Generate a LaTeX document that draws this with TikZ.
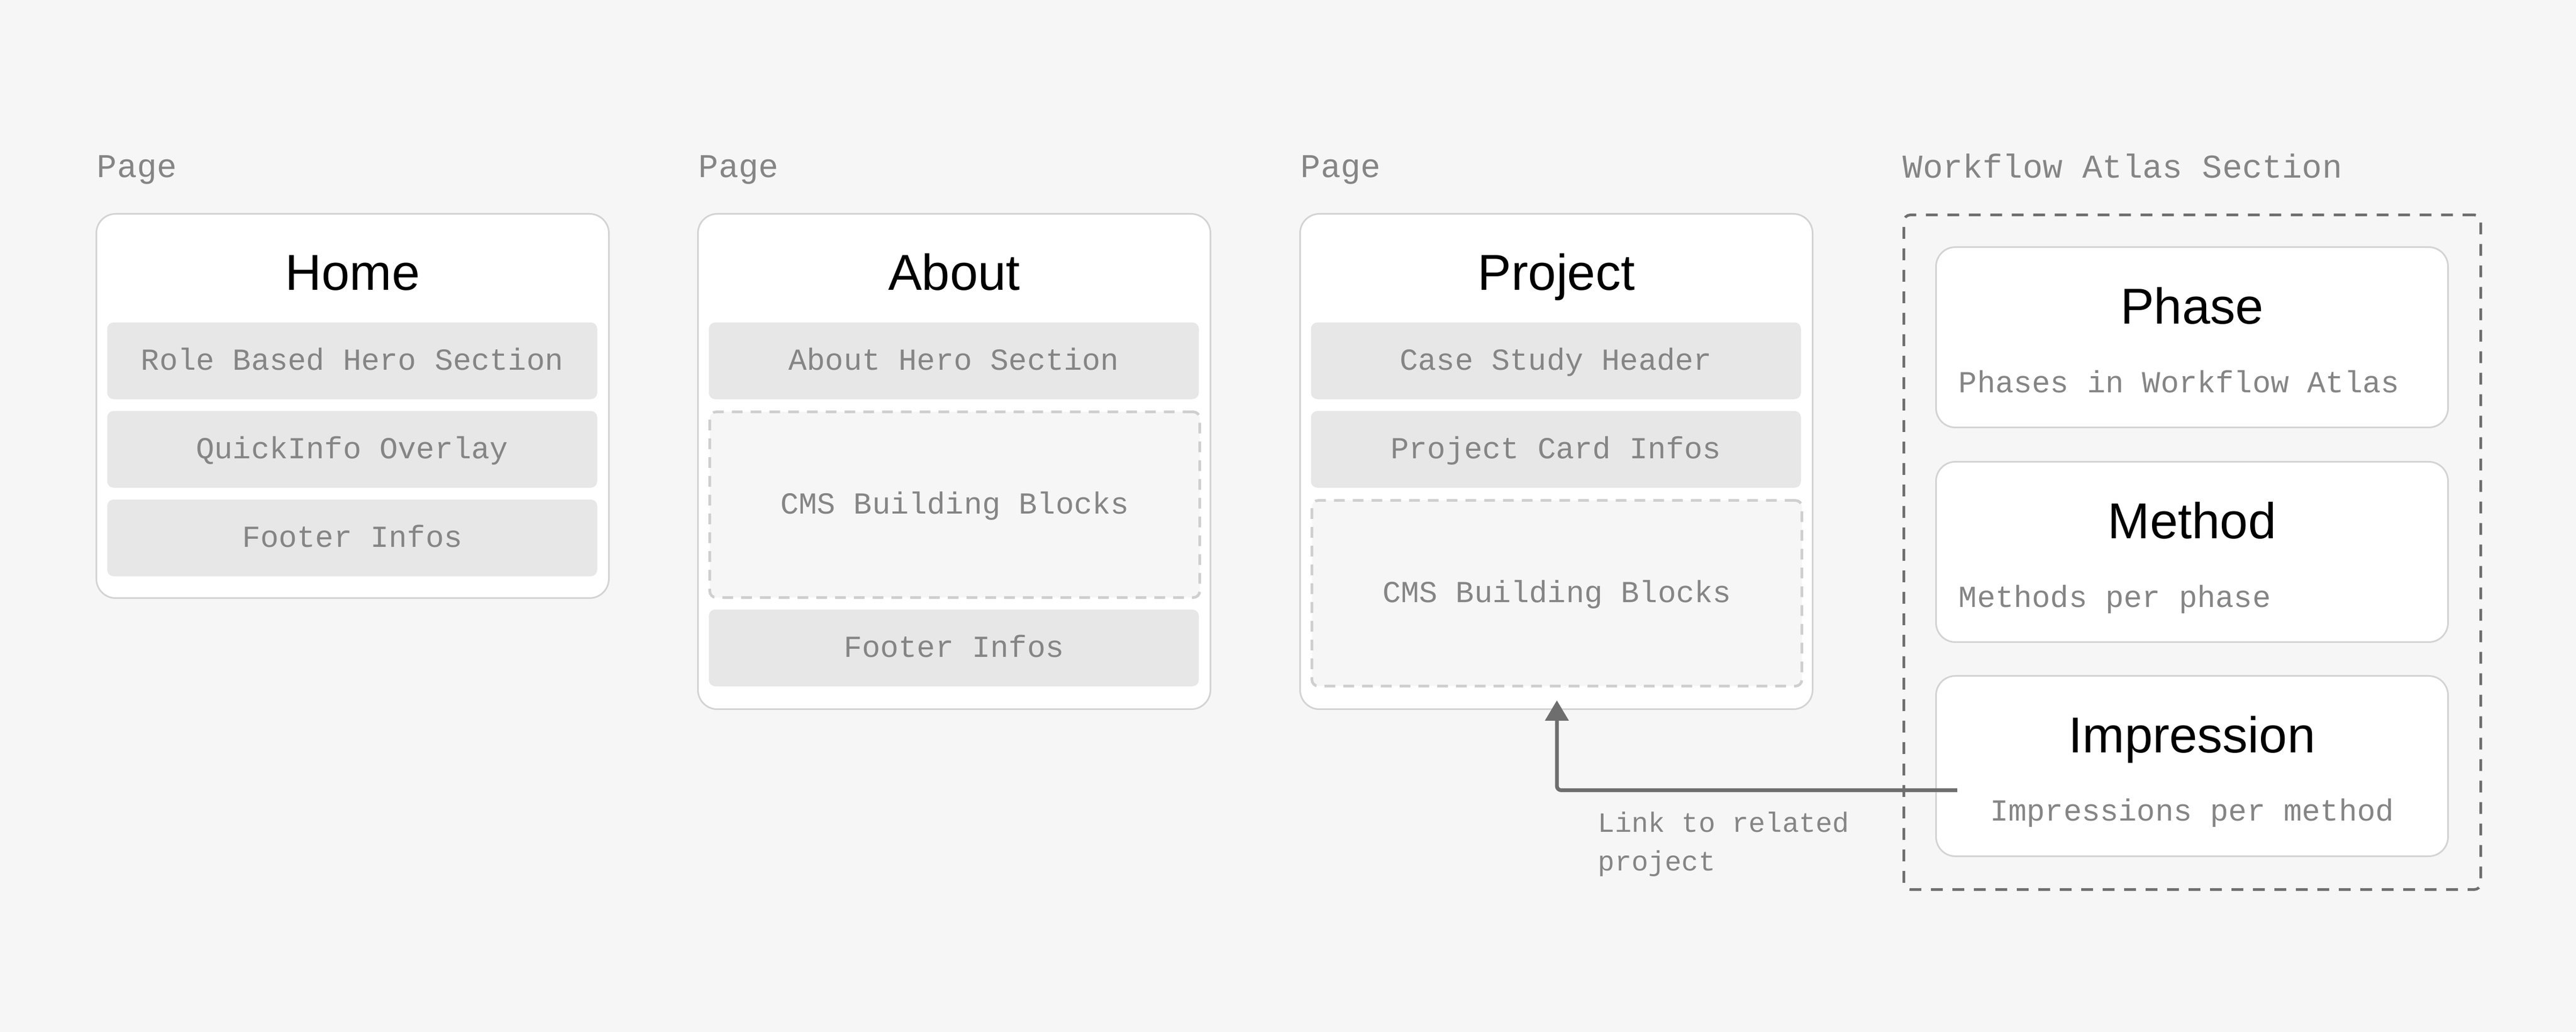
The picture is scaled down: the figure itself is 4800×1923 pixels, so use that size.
\documentclass[tikz,border=0pt]{standalone}
\usepackage{fontspec}
\setmainfont{Liberation Sans}
\newfontfamily\monof{Liberation Mono}
\usetikzlibrary{arrows.meta,calc}
\definecolor{bg}{HTML}{F6F6F6}
\definecolor{boxline}{HTML}{D3D3D3}
\definecolor{rowfill}{HTML}{E7E7E7}
\definecolor{labelgray}{HTML}{858585}
\definecolor{dashgray}{HTML}{CFCFCF}
\definecolor{framegray}{HTML}{6F6F6F}
\definecolor{arrowgray}{HTML}{6E6E6E}
\begin{document}
\begin{tikzpicture}[x=0.25pt,y=-0.25pt,
  pagebox/.style={draw=boxline, line width=0.75pt, fill=white, rounded corners=9pt,
    anchor=north west, minimum width=238.75pt, inner sep=0pt},
  card/.style={pagebox, minimum width=238.5pt, minimum height=84pt},
  rowbox/.style={fill=rowfill, rounded corners=3pt, anchor=north west,
    minimum width=228.25pt, minimum height=35.75pt, inner sep=0pt,
    font=\monof\fontsize{14.25}{17}\selectfont, text=labelgray,
    text height=8.5pt, text depth=0pt},
  cmsbox/.style={rowbox, fill=bg, draw=dashgray, line width=1.25pt,
    dash pattern=on 5pt off 3.75pt, minimum height=86.5pt},
  frame/.style={draw=framegray, line width=1.25pt, dash pattern=on 5.5pt off 4.5pt,
    rounded corners=3pt, anchor=north west, inner sep=0pt,
    minimum width=268.75pt, minimum height=314.25pt},
  titletext/.style={font=\fontsize{23.5}{28}\selectfont, anchor=base, inner sep=0pt},
  header/.style={font=\monof\fontsize{15.5}{18}\selectfont, text=labelgray,
    anchor=base west, inner sep=0pt},
  subtext/.style={font=\monof\fontsize{14.25}{17}\selectfont, text=labelgray, inner sep=0pt},
  linkarrow/.style={draw=arrowgray, line width=1.75pt, rounded corners=2pt,
    -{Triangle[width=10.75pt,length=9.5pt]}}
]
\useasboundingbox (0,0) rectangle (4800,1923);
\fill[bg] (0,0) rectangle (4800,1923);

% Home
\node[header] (homeh) at (180,331) {Page};
\node[pagebox, minimum height=179pt] (home) at (178,397) {};
\node[titletext] (homet) at ($(home.north)+(0,144)$) {Home};
\node[rowbox] (h1) at (199,600) {Role Based Hero Section};
\node[rowbox] (h2) at (199,765) {QuickInfo Overlay};
\node[rowbox] (h3) at (199,930) {Footer Infos};

% About
\node[header] (abouth) at (1301,331) {Page};
\node[pagebox, minimum height=230.75pt] (about) at (1299,397) {};
\node[titletext] (aboutt) at ($(about.north)+(0,144)$) {About};
\node[rowbox] (a1) at (1320,600) {About Hero Section};
\node[cmsbox] (cms1) at (1320,765) {CMS Building Blocks};
\node[rowbox] (a3) at (1320,1135) {Footer Infos};

% Project
\node[header] (projh) at (2423,331) {Page};
\node[pagebox, minimum height=230.75pt] (proj) at (2421,397) {};
\node[titletext] (projt) at ($(proj.north)+(0,144)$) {Project};
\node[rowbox] (p1) at (2442,600) {Case Study Header};
\node[rowbox] (p2) at (2442,765) {Project Card Infos};
\node[cmsbox] (cms2) at (2442,930) {CMS Building Blocks};

% Workflow Atlas
\node[header] (wfh) at (3545,332) {Workflow Atlas Section};
\node[frame] (wf) at (3545,398) {};
\node[card] (phase) at (3606,459) {};
\node[titletext] (phaset) at ($(phase.north)+(0,145)$) {Phase};
\node[subtext, anchor=base west] (phases) at ($(phase.north west)+(43,273)$) {Phases in Workflow Atlas};
\node[card] (method) at (3606,859) {};
\node[titletext] (methodt) at ($(method.north)+(0,145)$) {Method};
\node[subtext, anchor=base west] (methods) at ($(method.north west)+(43,273)$) {Methods per phase};
\node[card] (imp) at (3606,1258) {};
\node[titletext] (impt) at ($(imp.north)+(0,145)$) {Impression};
\node[subtext, anchor=base] (imps) at ($(imp.north)+(0,272)$) {Impressions per method};

% Link
\coordinate (ls) at ($(imp.west)+(41,45)$);
\draw[linkarrow] (ls) -| ([yshift=-6pt]cms2.south);
\node[font=\monof\fontsize{13}{18}\selectfont, text=labelgray, align=left,
  anchor=north west, inner sep=0pt] (linkl) at (2977,1512) {Link to related\\project};
\end{tikzpicture}
\end{document}
